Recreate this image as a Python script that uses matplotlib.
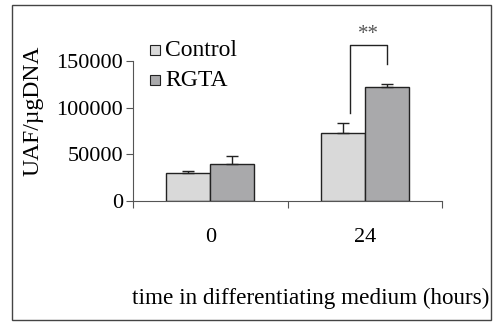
import matplotlib
matplotlib.use("Agg")
import matplotlib.pyplot as plt
from matplotlib.patches import Rectangle
import numpy as np

categories = ["0", "24"]
control = [30000, 73000]
control_err = [2500, 11000]
rgta = [40000, 122000]
rgta_err = [8500, 3500]
series_names = ["Control", "RGTA"]
yticks = [0, 50000, 100000, 150000]

plt.rcParams['font.family'] = ['Liberation Serif', 'DejaVu Serif']

W, H = 493, 322
fig = plt.figure(figsize=(W/100, H/100), dpi=100)

# outer frame
fig.patches.append(Rectangle((12/W, 1-320/H), (491-12)/W, (320-5)/H, transform=fig.transFigure,
                             fill=False, edgecolor='#444444', lw=1.0))

ax = fig.add_axes([133/W, 1-201/H, (442-133)/W, (201-61)/H])
x = np.arange(len(categories))
bw = 0.286
c1, c2 = '#d9d9d9', '#a9a9ab'
ax.bar(x - bw/2, control, bw, color=c1, edgecolor='#222222', lw=1.0, zorder=2)
ax.bar(x + bw/2, rgta, bw, color=c2, edgecolor='#222222', lw=1.0, zorder=2)
ax.errorbar(x - bw/2, control, yerr=[np.zeros(2), control_err], fmt='none', ecolor='#222222',
            elinewidth=1.0, capsize=4, capthick=1.0, zorder=3)
ax.errorbar(x + bw/2, rgta, yerr=[np.zeros(2), rgta_err], fmt='none', ecolor='#222222',
            elinewidth=1.0, capsize=4, capthick=1.0, zorder=3)

ax.set_xlim(-0.5, 1.5)
ax.set_ylim(0, 150000)
ax.set_yticks(yticks)
ax.set_yticklabels([str(v) for v in yticks], fontsize=16)
ax.set_xticks([-0.5, 0.5, 1.5], minor=False)
ax.set_xticklabels([])
for i, c in enumerate(categories):
    ax.text(x[i], -0.19, c, transform=ax.get_xaxis_transform(), ha='center', va='top', fontsize=16)
ax.tick_params(axis='y', length=5, width=0.8, color='#555555', pad=2)
ax.tick_params(axis='x', length=5, width=0.8, color='#555555', direction='out')
for s in ['top', 'right']:
    ax.spines[s].set_visible(False)
for s in ['left', 'bottom']:
    ax.spines[s].set_color('#555555')
    ax.spines[s].set_linewidth(0.8)
ax.patch.set_visible(False)

# significance bracket
xl = x[1] - bw/2 + 0.05
xr = x[1] + bw/2
ax.plot([xl, xl, xr, xr], [94000, 167000, 167000, 147000], color='#222222', lw=1.0, clip_on=False)
ax.text((xl + xr)/2, 168000, '**', ha='center', va='bottom', fontsize=15, color='#555555')

# legend
for i, (name, col) in enumerate(zip(series_names, [c1, c2])):
    yy = 50 + 30 * i
    fig.patches.append(Rectangle((150/W, 1-(yy+5)/H), 10/W, 10/H, transform=fig.transFigure,
                                 facecolor=col, edgecolor='#222222', lw=0.8))
    fig.text(165/W, 1-yy/H, name, ha='left', va='center', fontsize=17)

fig.text(33/W, 1-111/H, 'UAF/µgDNA', rotation=90, ha='center', va='center', fontsize=17)
fig.text(311/W, 1-298/H, 'time in differentiating medium (hours)', ha='center', va='center', fontsize=16.7)

fig.savefig('out.png', dpi=100)
